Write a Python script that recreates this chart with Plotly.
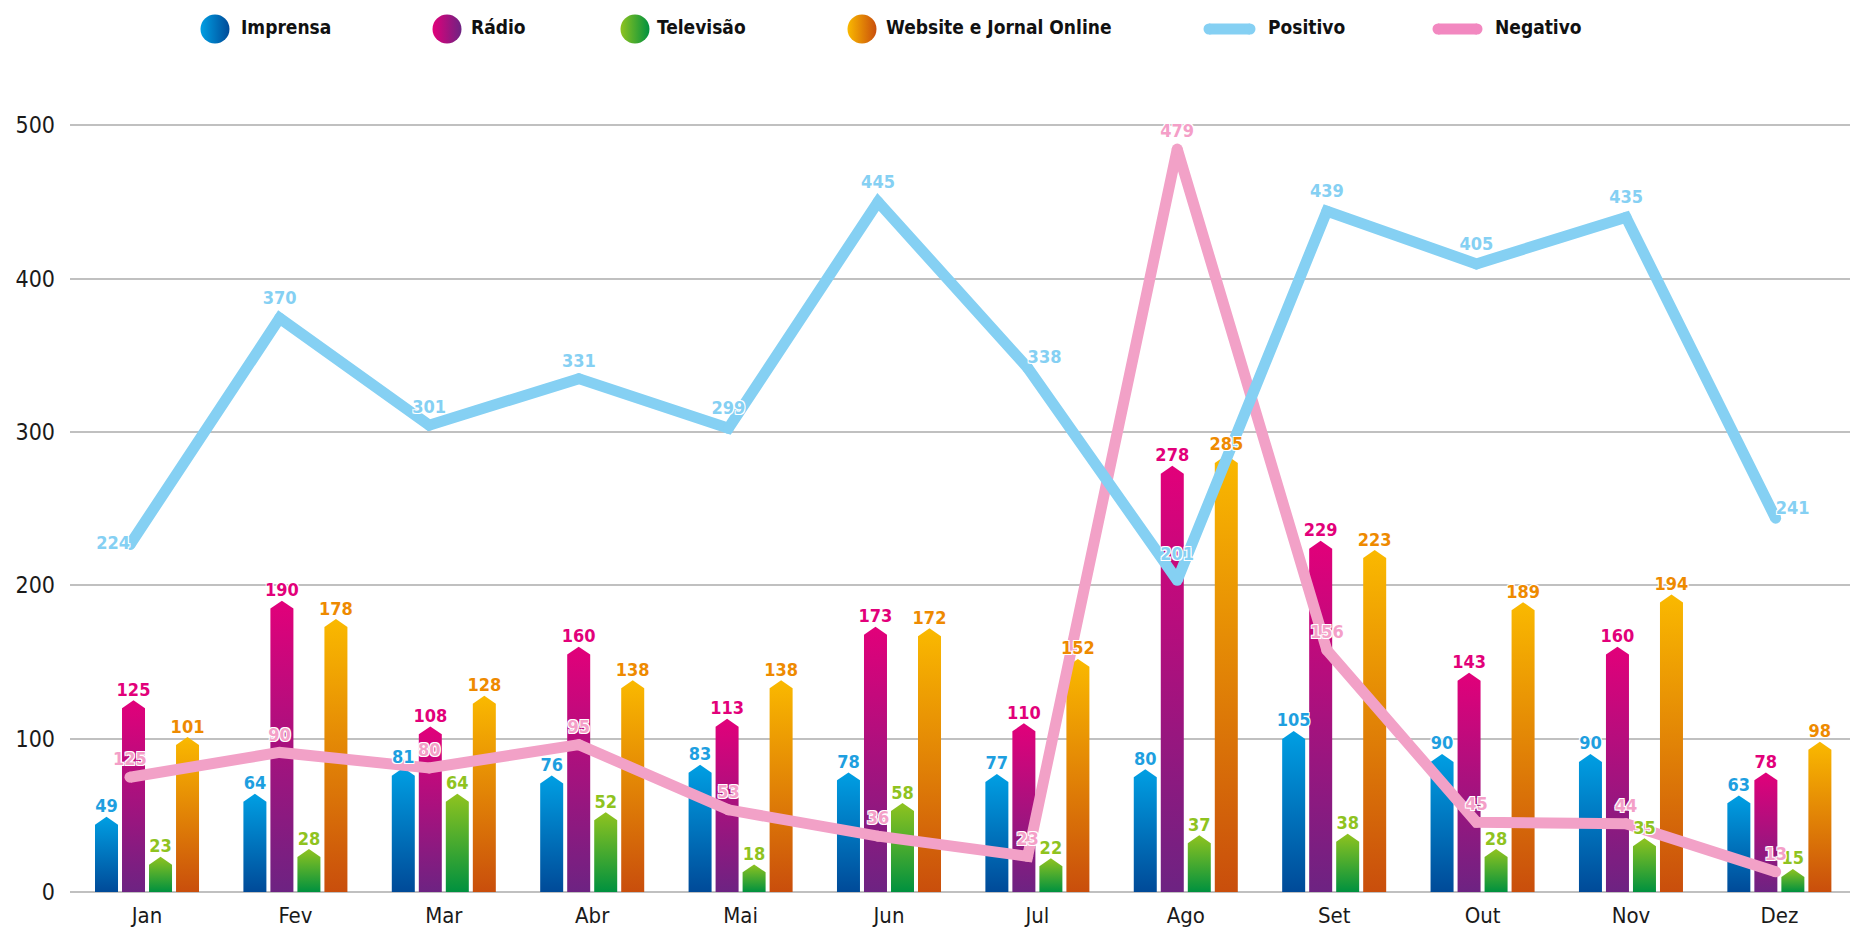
import plotly.graph_objects as go

months = ['Jan', 'Fev', 'Mar', 'Abr', 'Mai', 'Jun', 'Jul', 'Ago', 'Set', 'Out', 'Nov', 'Dez']
imprensa = [49, 64, 81, 76, 83, 78, 77, 80, 105, 90, 90, 63]
radio = [125, 190, 108, 160, 113, 173, 110, 278, 229, 143, 160, 78]
televisao = [23, 28, 64, 52, 18, 58, 22, 37, 38, 28, 35, 15]
website = [101, 178, 128, 138, 138, 172, 152, 285, 223, 189, 194, 98]
positivo = [224, 370, 301, 331, 299, 445, 338, 201, 439, 405, 435, 241]
# the Jan point of Negativo sits near 74 in the picture but is labelled 125
negativo = [74, 90, 80, 95, 53, 36, 23, 479, 156, 45, 44, 13]
negativo_labels = ['125', '90', '80', '95', '53', '36', '23', '479', '156', '45', '44', '13']

series_names = ['Imprensa', 'Rádio', 'Televisão', 'Website e Jornal Online']
series_values = [imprensa, radio, televisao, website]
# (bottom, top) gradient colours
bar_colors = [('#004a98', '#009fe3'), ('#6d2382', '#e2007a'),
              ('#00913f', '#8fc31f'), ('#c94e0c', '#fab900')]
label_colors = ['#1e9fe0', '#e2007a', '#8fc31f', '#ee8a00']

FONT = 'Liberation Sans Narrow, DejaVu Sans Condensed, Roboto, sans-serif'
SHADOW = '1px 1px 0 #fff, -1px -1px 0 #fff, 1px -1px 0 #fff, -1px 1px 0 #fff'
POS_COLOR = '#85d0f3'
NEG_COLOR = '#f2a1c7'
HIDDEN_MARKER = dict(color='rgba(0,0,0,0)', opacity=0, line=dict(width=0))

slot = 0.182
bw = 0.155
tip = 5.2

fig = go.Figure()

# bars as filled polygons so they get a pointed top and a vertical gradient
for k, vals in enumerate(series_values):
    bottom, top = bar_colors[k]
    for i, v in enumerate(vals):
        cx = i + (k - 1.5) * slot
        fig.add_trace(go.Scatter(
            x=[cx - bw / 2, cx - bw / 2, cx, cx + bw / 2, cx + bw / 2, cx - bw / 2],
            y=[0, v - tip, v, v - tip, 0, 0],
            mode='lines', fill='toself', line=dict(width=0, color='rgba(0,0,0,0)'),
            fillgradient=dict(type='vertical', colorscale=[[0, bottom], [1, top]]),
            hoverinfo='skip', showlegend=False, xaxis='x', yaxis='y'))

fig.add_trace(go.Scatter(x=list(range(12)), y=negativo, mode='lines+markers',
                         line=dict(color=NEG_COLOR, width=11), marker=dict(color=NEG_COLOR, size=11),
                         hoverinfo='skip', showlegend=False, xaxis='x2', yaxis='y3'))
fig.add_trace(go.Scatter(x=list(range(12)), y=positivo, mode='lines+markers',
                         line=dict(color=POS_COLOR, width=11), marker=dict(color=POS_COLOR, size=11),
                         hoverinfo='skip', showlegend=False, xaxis='x2', yaxis='y3'))

# bar value labels
for k, vals in enumerate(series_values):
    fig.add_trace(go.Scatter(
        x=[i + (k - 1.5) * slot for i in range(12)], y=vals, mode='text',
        text=[str(v) for v in vals], textposition='top center',
        textfont=dict(family=FONT, size=18, color=label_colors[k], weight='bold', shadow=SHADOW),
        cliponaxis=False, hoverinfo='skip', showlegend=False, xaxis='x3', yaxis='y'))

# line value labels (hidden markers only push the text away from the point)
pos_positions = ['middle left'] + ['top center'] * 5 + ['top right'] + ['top center'] * 4 + ['top right']
pos_gap = [0, 14, 10, 10, 14, 14, 0, 24, 14, 14, 14, 0]
fig.add_trace(go.Scatter(
    x=list(range(12)), y=positivo, mode='markers+text', text=[str(v) for v in positivo],
    textposition=pos_positions, marker=dict(size=pos_gap, **HIDDEN_MARKER),
    textfont=dict(family=FONT, size=18, color=POS_COLOR, weight='bold', shadow=SHADOW),
    cliponaxis=False, hoverinfo='skip', showlegend=False, xaxis='x4', yaxis='y3'))
fig.add_trace(go.Scatter(
    x=list(range(12)), y=negativo, mode='markers+text', text=negativo_labels, textposition='top center',
    marker=dict(size=10, **HIDDEN_MARKER),
    textfont=dict(family=FONT, size=18, color='#f49fc8', weight='bold', shadow=SHADOW),
    cliponaxis=False, hoverinfo='skip', showlegend=False, xaxis='x4', yaxis='y3'))

# legend drawn in its own strip, axis units = pixels
leg_dot_x = [215, 447, 635, 862]
fig.add_trace(go.Scatter(
    x=leg_dot_x, y=[29] * 4, mode='markers',
    marker=dict(size=29, color=[c[1] for c in bar_colors],
                gradient=dict(type='horizontal', color=[c[0] for c in bar_colors])),
    hoverinfo='skip', showlegend=False, xaxis='x5', yaxis='y2'))
fig.add_trace(go.Scatter(x=[1209, 1250], y=[29, 29], mode='lines+markers',
                         line=dict(color=POS_COLOR, width=11), marker=dict(color=POS_COLOR, size=11),
                         hoverinfo='skip', showlegend=False, xaxis='x5', yaxis='y2'))
fig.add_trace(go.Scatter(x=[1438, 1477], y=[29, 29], mode='lines+markers',
                         line=dict(color='#f288c0', width=11), marker=dict(color='#f288c0', size=11),
                         hoverinfo='skip', showlegend=False, xaxis='x5', yaxis='y2'))
fig.add_trace(go.Scatter(
    x=[241, 471, 657, 886, 1268, 1495], y=[29] * 6, mode='text',
    text=series_names + ['Positivo', 'Negativo'], textposition='middle right',
    textfont=dict(family=FONT, size=19, color='#111111', weight='bold'),
    cliponaxis=False, hoverinfo='skip', showlegend=False, xaxis='x5', yaxis='y2'))

xr_bars = [-0.519, 11.476]
xr_lines = [-0.401, 11.497]
fig.update_layout(
    width=1850, height=934,
    margin=dict(l=70, r=0, t=0, b=42),
    plot_bgcolor='white', paper_bgcolor='white',
    showlegend=False,
    xaxis=dict(range=xr_bars, tickvals=list(range(12)), ticktext=months, showgrid=False,
               zeroline=False, showline=False, ticks='', ticklabelstandoff=8,
               tickfont=dict(family=FONT, size=22, color='#1a1a1a'), fixedrange=True),
    xaxis2=dict(range=xr_lines, overlaying='x', visible=False),
    xaxis3=dict(range=xr_bars, overlaying='x', visible=False),
    xaxis4=dict(range=xr_lines, overlaying='x', visible=False),
    xaxis5=dict(range=[70, 1850], anchor='y2', visible=False),
    yaxis=dict(range=[0, 536], domain=[0, 0.9215], tickvals=[0, 100, 200, 300, 400, 500],
               showgrid=True, gridcolor='#c0c0c0', gridwidth=1.5,
               zeroline=True, zerolinecolor='#c0c0c0', zerolinewidth=1.5,
               ticks='', ticklabelstandoff=14,
               tickfont=dict(family=FONT, size=23, color='#1a1a1a')),
    yaxis2=dict(range=[70, 0], domain=[0.9215, 1], anchor='x5', visible=False),
    yaxis3=dict(range=[0, 530], overlaying='y', visible=False),
)

fig.write_html("out.html", config={'displayModeBar': False},
               post_script="document.body.style.margin='0';")
